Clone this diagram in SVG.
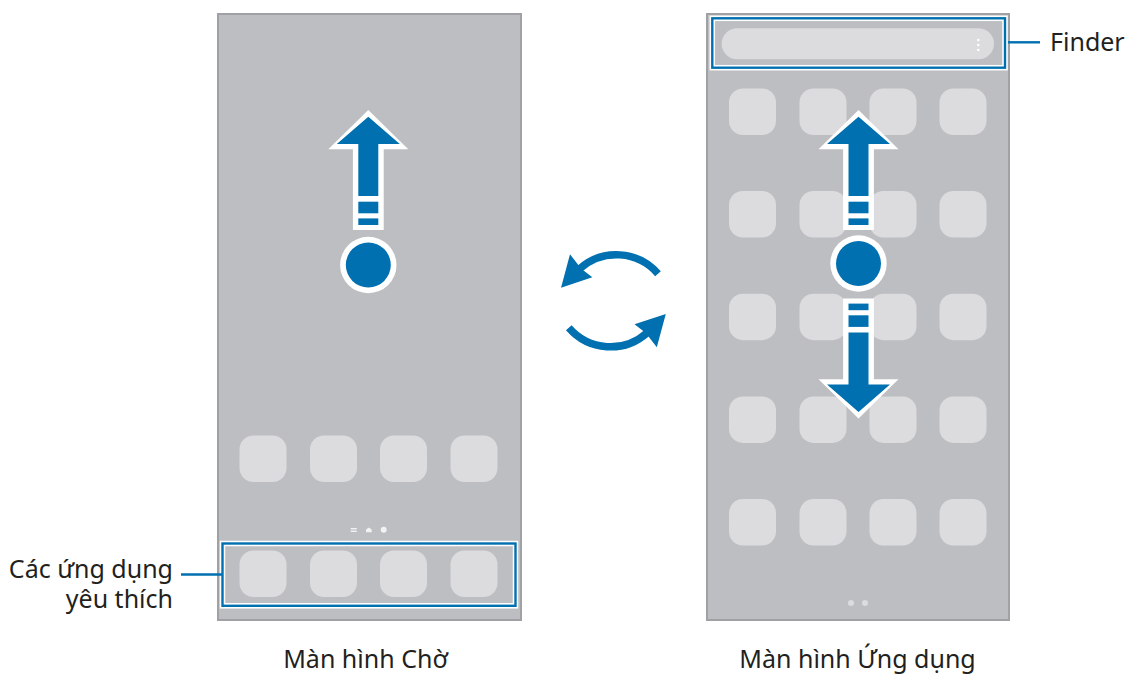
<svg xmlns="http://www.w3.org/2000/svg" xmlns:xlink="http://www.w3.org/1999/xlink" width="1127" height="675" viewBox="0 0 1127 675">
<style>
.phone{fill:#bdbec2;stroke:#a0a1a4;stroke-width:2}
.icon{fill:#dcdcde}
.hlw{fill:none;stroke:#ffffff;stroke-width:5.5}
.hlb{fill:none;stroke:#0070b0;stroke-width:2.4}
.lead{stroke:#0070b0;stroke-width:2.4;fill:none}
.lbl{font-family:"Noto Sans","Open Sans","DejaVu Sans",sans-serif;font-size:25px;fill:#231f20}
.blue{fill:#0070b0}
.wht{fill:#ffffff}
.sync{fill:none;stroke:#0070b0;stroke-width:7.5}
</style>
<defs>
<rect id="ic" width="47" height="46.5" rx="14" class="icon"/>
<g id="arrowUp">
<polygon class="wht" points="0,110 40,149.3 15.4,149.3 15.4,230 -15.4,230 -15.4,149.3 -40,149.3"/>
<polygon class="blue" points="0,116.7 31.5,144 10,144 10,196 -10,196 -10,144 -31.5,144"/>
<rect class="blue" x="-10" y="201.7" width="20" height="11.6"/>
<rect class="blue" x="-10" y="218.4" width="20" height="6.6"/>
</g>
<g id="syncArrow">
<path class="sync" d="M 658 273.8 A 55 55 0 0 0 580 268.5"/>
<polygon class="blue" points="570,254.3 561,287.7 592.3,277.3 581,268.5"/>
</g>
</defs>

<g id="home-screen">
<rect class="phone" x="218" y="14" width="303" height="606"/>
<use xlink:href="#ic" x="239.5" y="435.5"/>
<use xlink:href="#ic" x="310" y="435.5"/>
<use xlink:href="#ic" x="380" y="435.5"/>
<use xlink:href="#ic" x="450.5" y="435.5"/>
<g id="page-indicator" fill="#f2f2f2">
<rect x="350.7" y="528" width="6" height="1.4"/>
<rect x="350.7" y="530.6" width="6" height="1.4"/>
<polygon points="366,532.2 366,529.6 368.8,527.4 371.7,529.6 371.7,532.2"/>
<circle cx="383.7" cy="529.7" r="3"/>
</g>
<g id="favorites-dock">
<use xlink:href="#ic" x="239.5" y="550.5"/>
<use xlink:href="#ic" x="310" y="550.5"/>
<use xlink:href="#ic" x="380" y="550.5"/>
<use xlink:href="#ic" x="450.5" y="550.5"/>
<rect class="hlw" x="222.5" y="543.5" width="293" height="62.3"/>
<rect class="hlb" x="222.5" y="543.5" width="293" height="62.3"/>
</g>
<g id="swipe-up-left">
<use xlink:href="#arrowUp" x="368.3" y="0"/>
<circle cx="368.3" cy="265" r="28.2" class="wht"/>
<circle cx="368.3" cy="265" r="22.5" class="blue"/>
</g>
</g>

<g id="apps-screen">
<rect class="phone" x="707" y="14" width="302" height="606"/>
<g id="app-grid">
<use xlink:href="#ic" x="729" y="88.5"/><use xlink:href="#ic" x="799.5" y="88.5"/><use xlink:href="#ic" x="869.5" y="88.5"/><use xlink:href="#ic" x="939.5" y="88.5"/>
<use xlink:href="#ic" x="729" y="191"/><use xlink:href="#ic" x="799.5" y="191"/><use xlink:href="#ic" x="869.5" y="191"/><use xlink:href="#ic" x="939.5" y="191"/>
<use xlink:href="#ic" x="729" y="293.7"/><use xlink:href="#ic" x="799.5" y="293.7"/><use xlink:href="#ic" x="869.5" y="293.7"/><use xlink:href="#ic" x="939.5" y="293.7"/>
<use xlink:href="#ic" x="729" y="396.4"/><use xlink:href="#ic" x="799.5" y="396.4"/><use xlink:href="#ic" x="869.5" y="396.4"/><use xlink:href="#ic" x="939.5" y="396.4"/>
<use xlink:href="#ic" x="729" y="499"/><use xlink:href="#ic" x="799.5" y="499"/><use xlink:href="#ic" x="869.5" y="499"/><use xlink:href="#ic" x="939.5" y="499"/>
</g>
<circle cx="851" cy="603" r="3" class="icon"/>
<circle cx="865" cy="603" r="3" class="icon"/>
<g id="finder-bar">
<rect x="721.7" y="28.3" width="272.3" height="31" rx="15.5" class="icon"/>
<circle cx="978.3" cy="40" r="1.3" class="wht"/>
<circle cx="978.3" cy="45" r="1.3" class="wht"/>
<circle cx="978.3" cy="50" r="1.3" class="wht"/>
<rect class="hlw" x="712.3" y="18.3" width="292.7" height="49.4"/>
<rect class="hlb" x="712.3" y="18.3" width="292.7" height="49.4"/>
</g>
<g id="swipe-updown-right">
<use xlink:href="#arrowUp" x="858.5" y="0"/>
<g transform="translate(0,528.6) scale(1,-1)">
<use xlink:href="#arrowUp" x="858.5" y="0"/>
</g>
<circle cx="858.5" cy="263.5" r="28.2" class="wht"/>
<circle cx="858.5" cy="263.5" r="22.5" class="blue"/>
</g>
</g>

<g id="switch-icon">
<use xlink:href="#syncArrow"/>
<use xlink:href="#syncArrow" transform="rotate(180 613.4 300.8)"/>
</g>

<g id="connectors">
<line class="lead" x1="1008" y1="42.3" x2="1040" y2="42.3"/>
<line class="lead" x1="181" y1="574.5" x2="222" y2="574.5"/>
</g>

<g id="labels">
<text class="lbl" x="1050" y="51">Finder</text>
<text class="lbl" text-anchor="end"><tspan x="173" y="577.5">Các ứng dụng</tspan><tspan x="173" y="608">yêu thích</tspan></text>
<text class="lbl" x="365.5" y="668" text-anchor="middle">Màn hình Chờ</text>
<text class="lbl" x="857.5" y="668" text-anchor="middle">Màn hình Ứng dụng</text>
</g>
</svg>
